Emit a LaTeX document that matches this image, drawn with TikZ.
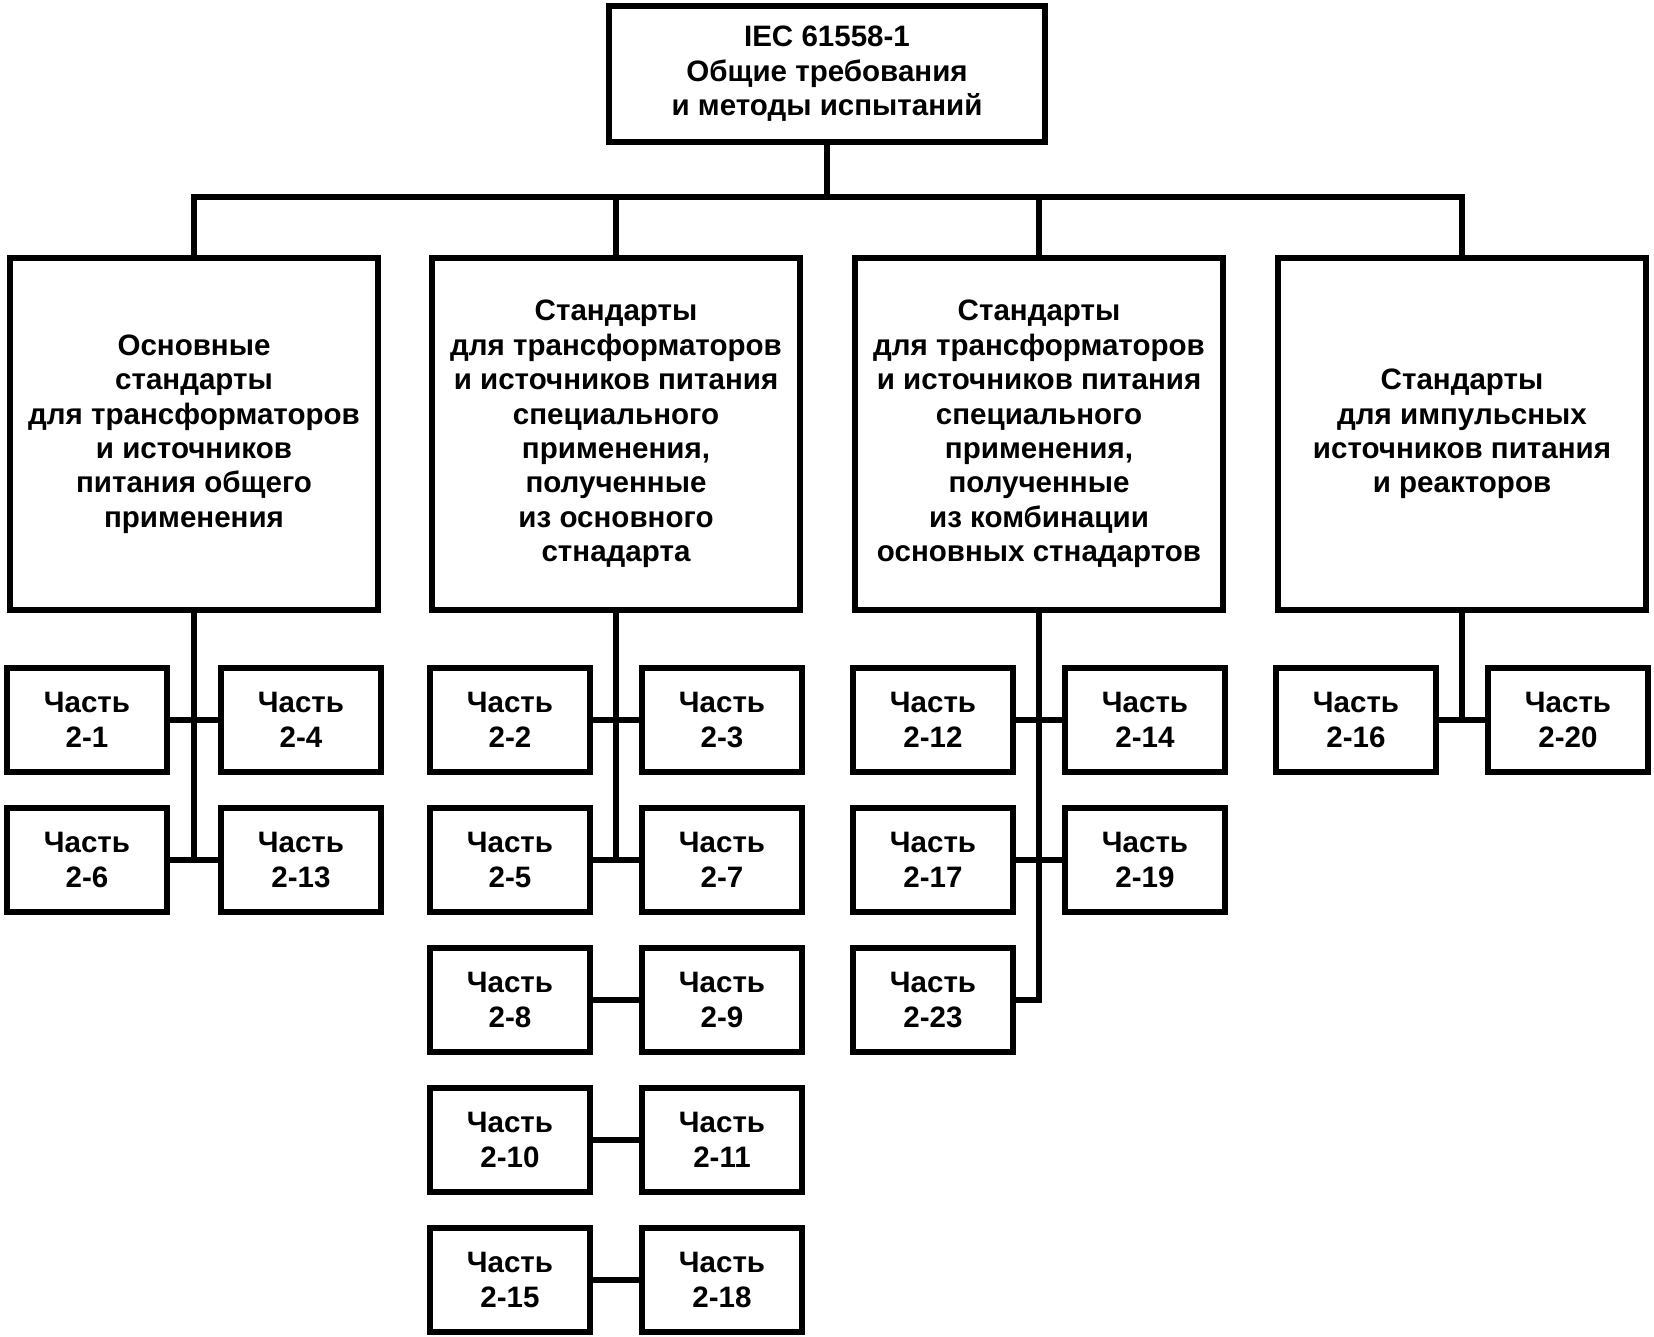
\documentclass[tikz,border=0pt]{standalone}
\usepackage{fontspec}
\setmainfont{Liberation Sans}
\tikzset{
  frame/.style={draw, line width=1.7pt, align=center, inner sep=0pt,
    font=\fontsize{8.4pt}{9.8pt}\selectfont\bfseries},
  headbox/.style={frame, minimum width=4.36cm, minimum height=1.36cm},
  groupbox/.style={frame, minimum width=3.68cm, minimum height=3.51cm},
  partbox/.style={frame, minimum width=1.60cm, minimum height=1.04cm}
}
\begin{document}
\begin{tikzpicture}[x=0.01cm, y=-0.01cm]
      \useasboundingbox (0,0) rectangle (1654,1337);
      \draw
        (827,74) node[headbox] (top){IEC 61558-1\\Общие требования\\и методы испытаний}
        (194,434) node[groupbox] (g1){Основные\\стандарты\\для трансформаторов\\и источников\\питания общего\\применения}
        (616,434) node[groupbox] (g2){Стандарты\\для трансформаторов\\и источников питания\\специального\\применения,\\полученные\\из основного\\стнадарта}
        (1039,434) node[groupbox] (g3){Стандарты\\для трансформаторов\\и источников питания\\специального\\применения,\\полученные\\из комбинации\\основных стнадартов}
        (1462,434) node[groupbox] (g4){Стандарты\\для импульсных\\источников питания\\и реакторов};
      \coordinate (bus) at (827,197);
      \draw
        (87,720) node[partbox] (p1){Часть\\2-1}
        (301,720) node[partbox] (p4){Часть\\2-4}
        (87,860) node[partbox] (p6){Часть\\2-6}
        (301,860) node[partbox] (p13){Часть\\2-13}
        (510,720) node[partbox] (p2){Часть\\2-2}
        (722,720) node[partbox] (p3){Часть\\2-3}
        (510,860) node[partbox] (p5){Часть\\2-5}
        (722,860) node[partbox] (p7){Часть\\2-7}
        (510,1000) node[partbox] (p8){Часть\\2-8}
        (722,1000) node[partbox] (p9){Часть\\2-9}
        (510,1140) node[partbox] (p10){Часть\\2-10}
        (722,1140) node[partbox] (p11){Часть\\2-11}
        (510,1280) node[partbox] (p15){Часть\\2-15}
        (722,1280) node[partbox] (p18){Часть\\2-18}
        (933,720) node[partbox] (p12){Часть\\2-12}
        (1145,720) node[partbox] (p14){Часть\\2-14}
        (933,860) node[partbox] (p17){Часть\\2-17}
        (1145,860) node[partbox] (p19){Часть\\2-19}
        (933,1000) node[partbox] (p23){Часть\\2-23}
        (1356,720) node[partbox] (p16){Часть\\2-16}
        (1568,720) node[partbox] (p20){Часть\\2-20};
      \begin{scope}[line width=1.7pt]
        \draw (top) -- (bus);
        \draw (g1.north) |- (bus);
        \draw (g2.north) |- (bus);
        \draw (g3.north) |- (bus);
        \draw (g4.north) |- (bus);
        \draw (g1.south) -- (g1.south |- p6.east);
        \draw (p1.east) -- (p4.west);
        \draw (p6.east) -- (p13.west);
        \draw (g2.south) -- (g2.south |- p5.east);
        \draw (p2.east) -- (p3.west);
        \draw (p5.east) -- (p7.west);
        \draw (p8.east) -- (p9.west);
        \draw (p10.east) -- (p11.west);
        \draw (p15.east) -- (p18.west);
        \draw (g3.south) |- (p23.east);
        \draw (p12.east) -- (p14.west);
        \draw (p17.east) -- (p19.west);
        \draw (g4.south) -- (g4.south |- p16.east);
        \draw (p16.east) -- (p20.west);
      \end{scope}
    \end{tikzpicture}
\end{document}
